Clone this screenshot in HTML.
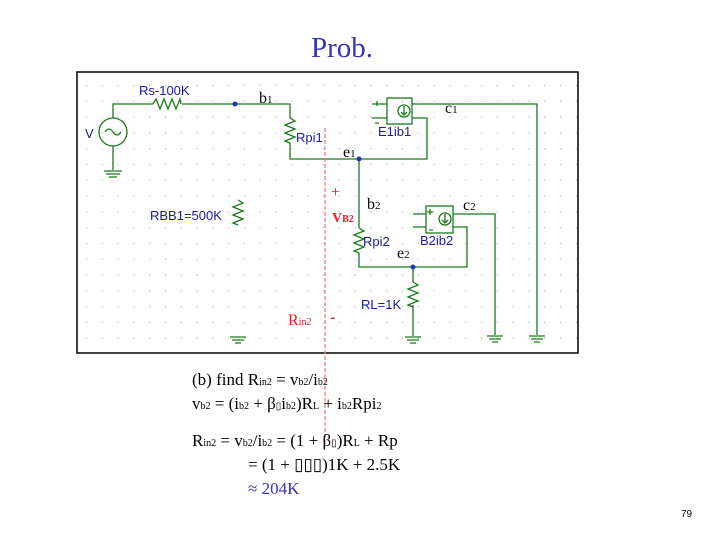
<!DOCTYPE html>
<html><head><meta charset="utf-8"><style>
body{margin:0;width:720px;height:540px;background:#fff;position:relative;overflow:hidden;font-family:"Liberation Serif",serif}
.t{position:absolute;white-space:nowrap;font-size:17px;color:#000}
sub{font-size:10px;vertical-align:0}
</style></head><body>
<div class="t" style="left:311px;top:32px;font-size:29px;color:#3333bb">Prob.</div>
<svg width="720" height="540" style="position:absolute;left:0;top:0">
<defs><pattern id="g" x="79" y="78" width="15.8" height="15.8" patternUnits="userSpaceOnUse"><rect x="7" y="7" width="1" height="1" fill="#999"/></pattern></defs>
<rect x="77" y="72" width="501" height="281" fill="url(#g)" stroke="#000" stroke-width="1.5"/>
<g stroke="#1a7a1a" stroke-width="1.3" fill="none">
<circle cx="113" cy="132" r="14"/>
<path d="M105 132q4-6 8 0t8 0"/>
<path d="M113 118V104H153M182 104H290V118M290 143V159H427V118H412M113 146V170M104 171h18M106 174h14M109 177h8"/>
<path d="M153 104l3-5 4 10 4-10 4 10 4-10 4 10 4-10 1 5"/>
<path d="M290 118l5 3-10 4 10 4-10 4 10 4-10 4 5 2"/>
<path d="M238 200l5 3-10 4 10 4-10 4 10 4-10 4 5 2"/>
<rect x="387" y="98" width="25" height="26"/>
<circle cx="404" cy="111" r="6"/><path d="M404 106v9M401 112l3 3 3-3"/>
<path d="M372 104h15M372 118h15M412 104H537V335M529 336h16M531 339h12M534 342h6"/>
<path d="M359 159V228M359 253V267H467V227H453M359 228l5 3-10 4 10 4-10 4 10 4-10 4 5 2"/>
<rect x="426" y="206" width="27" height="27"/>
<circle cx="445" cy="219" r="6"/><path d="M445 214v9M442 220l3 3 3-3"/>
<path d="M413 214h13M413 227h13M453 214H495V335M487 336h16M489 339h12M492 342h6"/>
<path d="M413 267V282M413 305V336M405 337h16M407 340h12M410 343h6M413 282l5 3-10 4 10 4-10 4 10 4-10 4 5 2"/>
<path d="M230 337h16M232 340h12M235 343h6"/>
<path d="M377 101v5M375 123h4M430 209v6M427 212h6M429 230h4"/>
</g>
<g fill="#1a3ab0"><circle cx="235" cy="104" r="2.5"/><circle cx="359" cy="159" r="2.5"/><circle cx="413" cy="267" r="2.5"/></g>
<g fill="#1a1aa0" font-family="Liberation Sans,sans-serif" font-size="13">
<text x="139" y="95">Rs-100K</text><text x="85" y="138">V</text>
<text x="296" y="142">Rpi1</text><text x="150" y="220">RBB1=500K</text>
<text x="378" y="136">E1ib1</text><text x="363" y="246">Rpi2</text>
<text x="420" y="245">B2ib2</text><text x="361" y="309">RL=1K</text>
</g>
<line x1="325" y1="128" x2="325" y2="445" stroke="#f08080" stroke-width="1.3" stroke-dasharray="4,2"/>
<g font-family="Liberation Serif,serif" font-size="16" fill="#000">
<text x="259" y="103">b<tspan font-size="11">1</tspan></text>
<text x="343" y="157">e<tspan font-size="11">1</tspan></text>
<text x="445" y="113">c<tspan font-size="11">1</tspan></text>
<text x="367" y="209">b<tspan font-size="11">2</tspan></text>
<text x="463" y="210">c<tspan font-size="11">2</tspan></text>
<text x="397" y="258">e<tspan font-size="11">2</tspan></text>
</g>
<g fill="#dd2222" font-family="Liberation Serif,serif">
<text x="331" y="197" font-size="16">+</text>
<text x="332" y="222" font-size="14" font-weight="bold">V<tspan font-size="10">B2</tspan></text>
<text x="288" y="325" font-size="16">R<tspan font-size="10">in2</tspan></text>
<text x="330" y="322" font-size="16" font-weight="bold">-</text>
</g>
</svg>
<div class="t" style="left:192px;top:370px">(b) find R<sub>in2</sub> = v<sub>b2</sub>/i<sub>b2</sub></div>
<div class="t" style="left:192px;top:394px">v<sub>b2</sub> = (i<sub>b2</sub> + β<sub>▯</sub>i<sub>b2</sub>)R<sub>L</sub> + i<sub>b2</sub>Rpi<sub>2</sub></div>
<div class="t" style="left:192px;top:431px">R<sub>in2</sub> = v<sub>b2</sub>/i<sub>b2</sub> = (1 + β<sub>▯</sub>)R<sub>L</sub> + Rp</div>
<div class="t" style="left:248px;top:455px">= (1 + ▯▯▯)1K + 2.5K</div>
<div class="t" style="left:248px;top:479px;color:#3333bb">≈ 204K</div>
<div class="t" style="left:681px;top:509px;font-size:10px;font-family:'Liberation Sans',sans-serif">79</div>
</body></html>
